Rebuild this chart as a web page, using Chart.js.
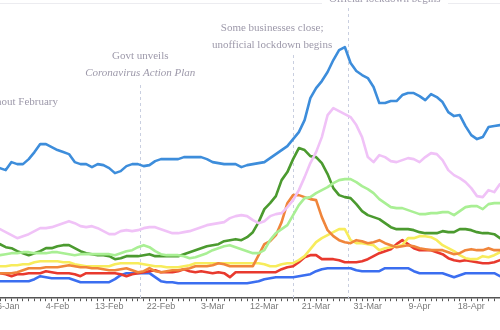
<!DOCTYPE html>
<html>
<head>
<meta charset="utf-8">
<script src="https://cdn.jsdelivr.net/npm/chart.js@4/dist/chart.umd.min.js"></script>
<style>
  html, body { margin: 0; padding: 0; background: #fff; }
  #wrap { position: relative; width: 500px; height: 330px; }
</style>
</head>
<body>
<div id="wrap"><canvas id="chart"></canvas></div>
<script>
// dates (29-Feb and 29-Mar are missing in the source data)
const dates = [
  "25-Jan","26-Jan","27-Jan","28-Jan","29-Jan","30-Jan","31-Jan",
  "1-Feb","2-Feb","3-Feb","4-Feb","5-Feb","6-Feb","7-Feb","8-Feb","9-Feb","10-Feb",
  "11-Feb","12-Feb","13-Feb","14-Feb","15-Feb","16-Feb","17-Feb","18-Feb","19-Feb","20-Feb",
  "21-Feb","22-Feb","23-Feb","24-Feb","25-Feb","26-Feb","27-Feb","28-Feb",
  "1-Mar","2-Mar","3-Mar","4-Mar","5-Mar","6-Mar","7-Mar","8-Mar","9-Mar","10-Mar",
  "11-Mar","12-Mar","13-Mar","14-Mar","15-Mar","16-Mar","17-Mar","18-Mar","19-Mar","20-Mar",
  "21-Mar","22-Mar","23-Mar","24-Mar","25-Mar","26-Mar","27-Mar","28-Mar","30-Mar","31-Mar",
  "1-Apr","2-Apr","3-Apr","4-Apr","5-Apr","6-Apr","7-Apr","8-Apr","9-Apr","10-Apr",
  "11-Apr","12-Apr","13-Apr","14-Apr","15-Apr","16-Apr","17-Apr","18-Apr","19-Apr","20-Apr",
  "21-Apr","22-Apr","23-Apr"
];

const blueTop = [130,128,136,134,134,139,146,154,154,151,148,146,144,136,134,134,131,134,133,130,
  125,127,132,134,134,132,133,137,139,139,139,139,141,141,141,141,139,136,135,134,
  134,134,131,133,134,135,136,140,144,148,152,159,166,178,200,210,217,226,238,248,
  251,235,227,223,220,211,195,195,197,197,203,205,205,202,198,204,201,196,186,182,
  183,172,163,159,161,171,172,173];

const pink = [69,66,63,60,62,64,67,70,70,71,73,75,77,75,72,71,72,70,67,64,
  64,67,68,67,68,70,71,71,69,67,65,65,66,67,69,71,73,74,75,76,
  80,82,83,82,78,75,77,82,84,85,91,98,108,121,135,146,161,183,190,187,
  184,181,173,161,141,136,143,141,137,136,138,140,139,136,141,145,144,138,128,123,
  120,116,110,102,101,108,106,114];

const lightGreen = [43,44,45,45,46,46,45,45,45,46,46,45,44,43,44,44,44,44,44,44,
  43,45,47,48,51,53,51,47,44,43,43,43,42,40,41,43,45,48,50,52,
  53,51,49,47,45,45,48,58,65,69,73,83,93,100,101,105,108,111,115,118,
  119,119,116,112,109,105,99,95,91,90,90,88,86,84,84,85,85,86,86,83,
  87,91,92,92,89,94,95,95];

const darkGreen = [54,51,50,47,45,43,45,47,50,50,52,53,53,50,47,45,44,43,43,42,
  39,40,42,42,42,43,44,42,42,42,42,42,44,46,48,50,52,53,54,57,
  58,59,58,61,66,76,89,95,102,118,126,139,150,148,142,141,135,124,110,103,
  101,100,94,87,83,81,79,75,71,69,69,69,68,66,65,65,65,67,66,66,
  69,69,68,66,65,65,64,60];

const orange = [25,25,25,26,28,30,30,30,31,31,31,32,33,32,31,31,30,30,29,28,
  28,29,30,28,26,27,30,27,26,27,28,28,29,30,32,32,32,33,35,34,
  32,32,32,32,32,43,54,57,63,76,95,103,103,101,99,98,81,68,62,58,
  56,55,58,57,55,56,58,55,53,51,52,53,52,50,49,48,48,48,46,44,
  45,48,49,48,48,50,48,48];

const yellow = [32,32,33,33,34,34,36,37,37,37,37,36,36,34,33,32,32,32,32,32,
  34,35,35,35,35,34,33,32,32,31,31,31,32,33,35,35,35,35,35,35,
  35,35,35,35,35,35,34,32,32,34,35,35,38,42,49,56,60,63,66,69,
  69,58,55,55,54,53,48,50,51,52,53,60,60,62,62,61,58,53,50,47,
  43,40,39,39,42,41,43,46];

const red = [25,24,22,24,24,25,25,25,27,26,25,25,25,24,22,25,25,25,25,25,
  25,24,22,24,25,26,27,28,26,26,26,27,29,27,26,27,26,25,26,25,
  21,26,26,26,26,26,26,26,26,29,31,32,36,41,43,43,39,39,39,38,
  36,36,36,37,39,42,45,47,49,54,58,54,50,48,48,48,46,44,40,38,
  37,38,37,36,35,35,36,38];

const blueLow = [17,17,17,17,17,17,19,22,21,20,20,20,20,18,16,16,16,16,16,16,
  19,23,25,25,25,25,25,21,17,16,16,15,15,15,15,15,15,15,15,15,
  15,15,15,15,16,17,19,20,21,21,21,21,22,23,24,27,29,30,30,30,
  30,30,28,27,27,27,27,30,30,30,30,30,27,25,25,25,25,25,23,21,
  23,25,25,25,25,25,25,22];

const series = [blueTop, pink, lightGreen, darkGreen, orange, yellow, red, blueLow];
const colours = ["#3d8ddb", "#f0c2f7", "#a9ef94", "#4b9a2f", "#f0853b", "#f7ec5c", "#e8392e", "#3b6ef0"];

// event annotations: position on the date axis and text lines
const eventIdx = [24.4, 51, 60.5];
const eventText = [
  ["Govt unveils", "Coronavirus Action Plan"],
  ["Some businesses close;", "unofficial lockdown begins"],
  ["Official lockdown begins"]
];

const annotations = {
  id: "annotations",
  beforeDatasetsDraw(chart) {
    const ctx = chart.ctx;
    const x = chart.scales.x;
    const bottom = chart.chartArea.bottom;
    const tops = [85, 55, 8];
    ctx.save();
    ctx.strokeStyle = "#c9cfe0";
    ctx.lineWidth = 1;
    ctx.setLineDash([3, 3]);
    eventIdx.forEach((idx, i) => {
      const px = Math.round(x.getPixelForValue(idx)) + 0.5;
      ctx.beginPath();
      ctx.moveTo(px, tops[i]);
      ctx.lineTo(px, bottom);
      ctx.stroke();
    });
    ctx.restore();
  },
  afterDraw(chart) {
    const ctx = chart.ctx;
    const x = chart.scales.x;
    ctx.save();
    // faint top rule, broken by the label box
    ctx.strokeStyle = "#ececf0";
    ctx.lineWidth = 1;
    ctx.beginPath();
    ctx.moveTo(0, 3.5);
    ctx.lineTo(500, 3.5);
    ctx.stroke();
    ctx.fillStyle = "#fff";
    ctx.fillRect(322, 0, 126, 7);

    ctx.fillStyle = "#9d99aa";
    ctx.textBaseline = "middle";
    ctx.textAlign = "center";
    const serif = "'Liberation Serif', 'Times New Roman', serif";
    const g = x.getPixelForValue(eventIdx[0]);
    ctx.font = "11px " + serif;
    ctx.fillText(eventText[0][0], g, 56);
    ctx.font = "italic 11px " + serif;
    ctx.fillText(eventText[0][1], g, 73);

    const b = x.getPixelForValue(eventIdx[1]) - 21;
    ctx.font = "11px " + serif;
    ctx.fillText(eventText[1][0], b, 28);
    ctx.fillText(eventText[1][1], b, 45);

    const o = x.getPixelForValue(eventIdx[2]) + 37;
    ctx.fillText(eventText[2][0], o, -1);

    ctx.textAlign = "right";
    ctx.fillText("throughout February", 58, 102);
    ctx.restore();
  }
};

new Chart(document.getElementById("chart"), {
  type: "line",
  data: {
    labels: dates,
    datasets: series.map((d, i) => ({
      data: d,
      borderColor: colours[i],
      borderWidth: 2.6,
      borderJoinStyle: "round",
      borderCapStyle: "round",
      pointRadius: 0,
      tension: 0,
      fill: false
    }))
  },
  options: {
    responsive: true,
    maintainAspectRatio: false,
    animation: false,
    layout: { padding: { left: 0, right: 0, top: 0, bottom: 18 } },
    plugins: {
      legend: { display: false },
      tooltip: { enabled: false }
    },
    scales: {
      x: {
        offset: false,
        grid: { drawOnChartArea: false, drawTicks: true, tickLength: 3, color: "#555" },
        border: { color: "#555", width: 1.5 },
        ticks: {
          autoSkip: false,
          maxRotation: 0,
          padding: 0,
          color: "#7a7a7a",
          font: { family: "'Liberation Sans', Arial, sans-serif", size: 9 },
          callback: (v, i) => (i % 9 === 1 ? dates[i] : "")
        }
      },
      y: { display: false, min: 0, max: 298 }
    }
  },
  plugins: [annotations]
});
</script>
</body>
</html>
